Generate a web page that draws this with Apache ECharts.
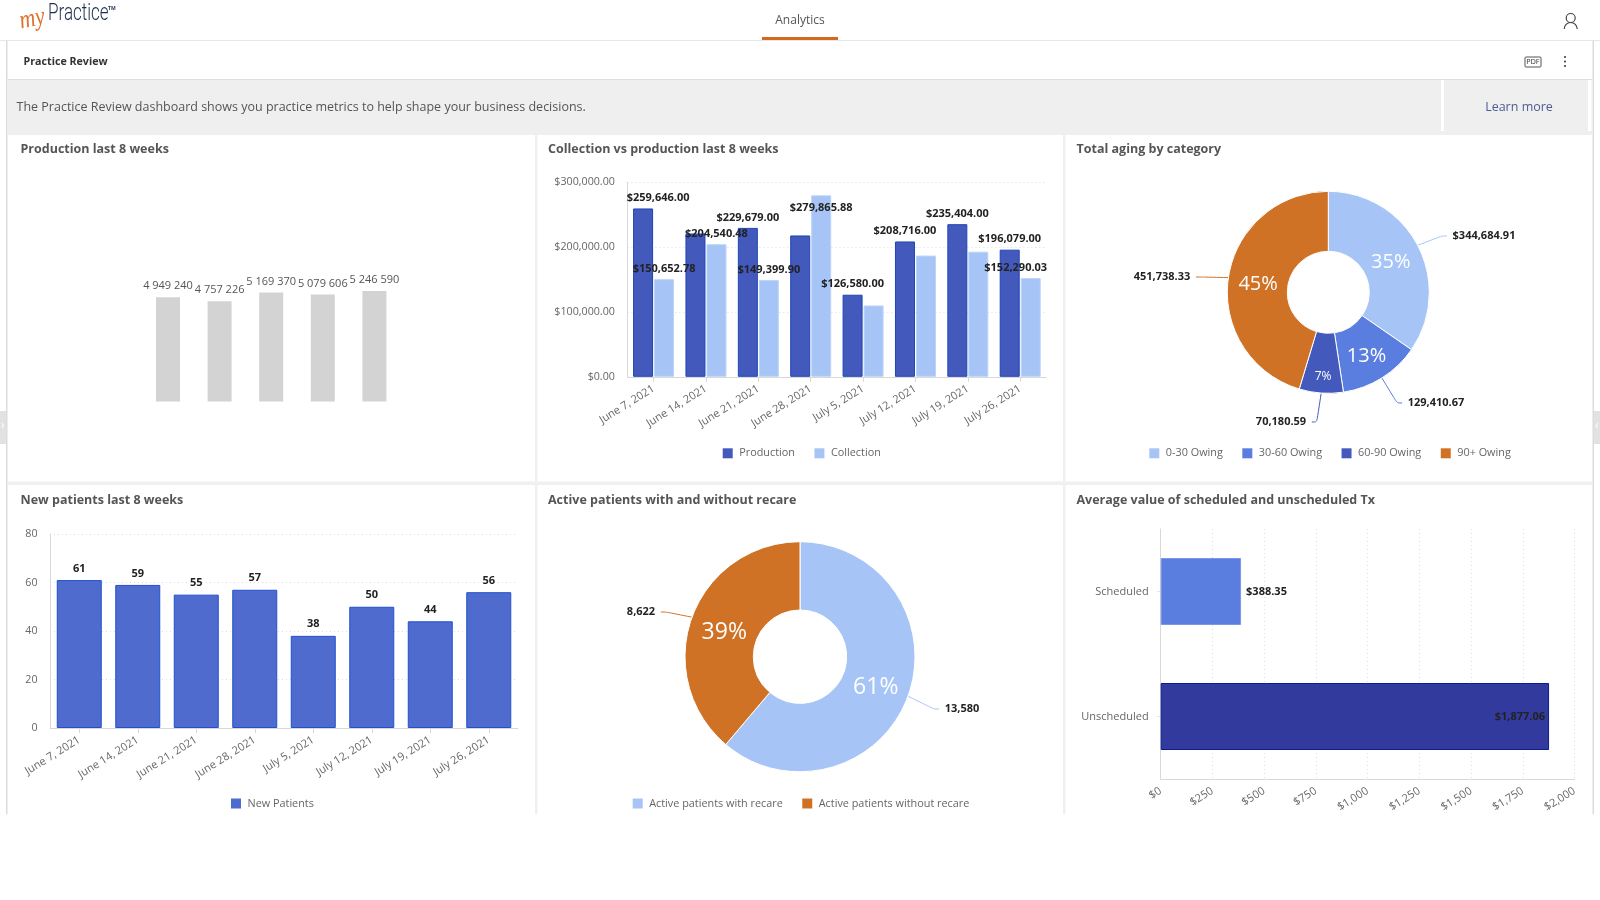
<!DOCTYPE html>
<html lang="en">
<head>
	<meta charset="UTF-8">
	<title>Practice Review</title>
	<script src="https://cdn.jsdelivr.net/npm/echarts@6/dist/echarts.min.js"></script>
	<style>
		html, body { margin: 0; padding: 0; background: #fff; }
		#main { width: 1600px; height: 900px; }
	</style>
</head>
<body>
	<div id="main"></div>
	<script type="text/javascript">
		var weeks = ['June 7, 2021', 'June 14, 2021', 'June 21, 2021', 'June 28, 2021', 'July 5, 2021', 'July 12, 2021', 'July 19, 2021', 'July 26, 2021'];

		// production last 8 weeks (only five bars on the card, no axis labels)
		var totalSlots = ['1', '2', '3', '4', '5'];
		var totalValues = [4949240, 4757226, 5169370, 5079606, 5246590];

		// collection vs production
		var productionValues = [259646.00, 221000, 229679.00, 218000, 126580.00, 208716.00, 235404.00, 196079.00];
		var collectionValues = [150652.78, 204540.48, 149399.90, 279865.88, 110000, 187000, 193000, 152290.03];
		var productionHasLabel = [true, false, true, false, true, true, true, true];
		var collectionHasLabel = [true, true, true, true, false, false, false, true];

		// aging
		var agingNames = ['0-30 Owing', '30-60 Owing', '60-90 Owing', '90+ Owing'];
		var agingValues = [344684.91, 129410.67, 70180.59, 451738.33];
		var agingTexts = ['$344,684.91', '129,410.67', '70,180.59', '451,738.33'];

		// new patients
		var newPatients = [61, 59, 55, 57, 38, 50, 44, 56];

		// recare
		var recareNames = ['Active patients with recare', 'Active patients without recare'];
		var recareValues = [13580, 8622];
		var recareTexts = ['13,580', '8,622'];

		// average value of Tx
		var txNames = ['Scheduled', 'Unscheduled'];
		var txValues = [388.35, 1877.06];

		var FONT = '"Open Sans", sans-serif';
		var GREY = '#666';
		var DARK = '#222';
		var LIGHT = '#a6c5f6';
		var MID = '#5a7de0';
		var BLUE = '#4459bc';
		var ORANGE = '#d07226';

		// label nudges for the crowded chart, by data index
		var productionOffset = { 0: [15, 0] };
		var collectionOffset = { 3: [0, 23], 7: [-15, 0] };
		var agingLabelPos = [[1484, 236], [1436, 403], [1281, 422], [1162, 277]];
		var recareLabelPos = [[962, 709], [641, 612]];
		var agingPercentShift = [[-3, 4], [-1, 1], [0, 10], [3, 3]];
		var recarePercentShift = [[-3, 2], [3, 5]];

		function money(v) {
			return '$' + v.toLocaleString('en-US', { minimumFractionDigits: 2, maximumFractionDigits: 2 });
		}
		function spaced(v) {
			return v.toLocaleString('en-US').replace(/,/g, ' ');
		}

		function barData(values, shown, offsets) {
			return values.map(function (v, i) {
				var item = { value: v, label: { show: shown[i] } };
				if (offsets[i]) item.label.offset = offsets[i];
				return item;
			});
		}

		function pieData(names, values, colors, sizes) {
			return values.map(function (v, i) {
				var item = { name: names[i], value: v, itemStyle: { color: colors[i] } };
				if (sizes) item.label = { fontSize: sizes[i] };
				return item;
			});
		}

		function valueLabel() {
			return { show: true, position: 'top', color: DARK, fontFamily: FONT, fontSize: 11, fontWeight: 'bold' };
		}

		function percentText(p) {
			return Math.round(p.percent) + '%';
		}

		// outside pie label: blank side tokens keep the leader line off the text
		function outerLabel(texts) {
			return {
				show: true, position: 'outside',
				formatter: function (p) { return '{gap| }{v|' + texts[p.dataIndex] + '}{gap| }'; },
				rich: {
					gap: { width: 8 },
					v: { color: DARK, fontFamily: FONT, fontSize: 11, fontWeight: 'bold' }
				}
			};
		}

		function catAxis(gridIndex, data) {
			return {
				type: 'category', gridIndex: gridIndex, data: data,
				axisLine: { lineStyle: { color: '#d8d8d8' } },
				axisTick: { show: true, alignWithLabel: true, length: 5, lineStyle: { color: '#d8d8d8' } },
				axisLabel: { interval: 0, rotate: 32, margin: 11, color: GREY, fontFamily: FONT, fontSize: 11 },
				splitLine: { show: false }
			};
		}

		function valAxis(gridIndex, max, interval, formatter) {
			return {
				type: 'value', gridIndex: gridIndex, min: 0, max: max, interval: interval,
				axisLine: { show: true, lineStyle: { color: '#d8d8d8' } },
				axisTick: { show: false },
				axisLabel: { margin: 12.5, color: GREY, fontFamily: FONT, fontSize: 10.7, formatter: formatter },
				splitLine: { show: true, lineStyle: { color: '#dcdcdc', type: [1, 3] } }
			};
		}

		function legend(left, top, names) {
			return {
				left: left, top: top, data: names, selectedMode: false, itemGap: 19.5,
				itemWidth: 10, itemHeight: 10, icon: 'rect', padding: 0,
				itemStyle: { borderWidth: 0 },
				textStyle: { color: GREY, fontFamily: FONT, fontSize: 10.85, padding: [0, 0, 0, 1.5] }
			};
		}

		function panelTitle(left, top, text) {
			return {
				text: text, left: left, top: top, padding: 0,
				textStyle: { color: '#555', fontFamily: FONT, fontSize: 12.5, fontWeight: 'bold' }
			};
		}

		function rect(x, y, w, h, fill) {
			return { type: 'rect', silent: true, shape: { x: x, y: y, width: w, height: h }, style: { fill: fill } };
		}
		function text(x, y, str, font, fill, align) {
			return {
				type: 'text', silent: true, x: x, y: y,
				style: { text: str, font: font, fill: fill, align: align || 'left', verticalAlign: 'middle' }
			};
		}

		var chrome = [
			rect(0, 40, 1600, 1, '#e6e6e6'),
			rect(762, 37, 76, 3, '#d2691e'),
			rect(6, 41, 1.5, 773, '#dcdcdc'),
			rect(1592.5, 41, 1.5, 773, '#dcdcdc'),
			rect(7.5, 79, 1585, 1, '#dedede'),
			rect(7.5, 80, 1585, 55, '#efefef'),
			rect(1441, 80, 3, 51, '#fff'),
			rect(1588, 80, 3.5, 51, '#fff'),
			rect(535, 135, 2.5, 679, '#f0f0f0'),
			rect(1063, 135, 2.5, 679, '#f0f0f0'),
			rect(7.5, 481.5, 1585, 3.5, '#f0f0f0'),
			rect(0, 411, 6, 33, '#e2e2e2'),
			rect(1594, 411, 6, 33, '#e2e2e2'),
			text(1, 426, '›', '12px ' + FONT, '#fff'),
			text(1595, 426, '‹', '12px ' + FONT, '#fff'),
			// logo
			{
				type: 'text', silent: true, x: 17, y: 9, rotation: 0.2, scaleX: 0.85,
				style: { text: 'my', font: 'italic 26px "Liberation Serif", serif', fill: '#e0702a' }
			},
			{
				type: 'text', silent: true, x: 48, y: 14, scaleX: 0.74,
				style: { text: 'Practice', font: '300 23px Roboto, sans-serif', fill: '#1f2f4a', verticalAlign: 'middle' }
			},
			text(108, 8.5, 'TM', 'bold 5px ' + FONT, '#1f2f4a'),
			text(800, 21, 'Analytics', '12px ' + FONT, '#555', 'center'),
			// user icon
			{ type: 'circle', silent: true, shape: { cx: 1570.7, cy: 18, r: 4.5 }, style: { fill: 'none', stroke: '#444', lineWidth: 1.2 } },
			{ type: 'arc', silent: true, shape: { cx: 1570.7, cy: 29, r: 6.5, startAngle: Math.PI, endAngle: 2 * Math.PI }, style: { fill: 'none', stroke: '#444', lineWidth: 1.2 } },
			text(23.5, 62, 'Practice Review', 'bold 10.7px ' + FONT, '#333'),
			// pdf and menu icons
			{ type: 'rect', silent: true, shape: { x: 1525, y: 57, width: 16, height: 10, r: 1 }, style: { fill: '#fff', stroke: '#555', lineWidth: 1 } },
			text(1533, 62, 'PDF', '7px "DejaVu Sans", sans-serif', '#444', 'center'),
			{ type: 'circle', silent: true, shape: { cx: 1565, cy: 57, r: 1 }, style: { fill: '#333' } },
			{ type: 'circle', silent: true, shape: { cx: 1565, cy: 61.5, r: 1 }, style: { fill: '#333' } },
			{ type: 'circle', silent: true, shape: { cx: 1565, cy: 66, r: 1 }, style: { fill: '#333' } },
			text(16.5, 107.5, 'The Practice Review dashboard shows you practice metrics to help shape your business decisions.', '12.5px ' + FONT, '#555'),
			text(1519, 107.5, 'Learn more', '12.5px ' + FONT, '#4c5c92', 'center')
		];

		var myChart = echarts.init(document.getElementById('main'));

		myChart.setOption({
			animation: false,
			backgroundColor: '#fff',
			graphic: chrome,
			title: [
				panelTitle(20.5, 142.5, 'Production last 8 weeks'),
				panelTitle(548, 142.5, 'Collection vs production last 8 weeks'),
				panelTitle(1076.5, 142.5, 'Total aging by category'),
				panelTitle(20.5, 493.5, 'New patients last 8 weeks'),
				panelTitle(548, 493.5, 'Active patients with and without recare'),
				panelTitle(1076.5, 493.5, 'Average value of scheduled and unscheduled Tx')
			],
			legend: [
				legend(722.7, 447.8, ['Production', 'Collection']),
				legend(1149.3, 447.8, agingNames),
				legend(231, 798, ['New Patients']),
				legend(632.7, 798, recareNames)
			],
			grid: [
				{ left: 142.2, top: 275, width: 258, height: 126.6, outerBoundsMode: 'none' },
				{ left: 627.4, top: 182.3, width: 419, height: 194.5, outerBoundsMode: 'none' },
				{ left: 50, top: 534, width: 468, height: 194, outerBoundsMode: 'none' },
				{ left: 1160.7, top: 529, width: 413.8, height: 250, outerBoundsMode: 'none' }
			],
			xAxis: [
				{ type: 'category', gridIndex: 0, data: totalSlots, show: false },
				catAxis(1, weeks),
				catAxis(2, weeks),
				{
					type: 'value', gridIndex: 3, min: 0, max: 2000, interval: 250,
					axisLine: { show: true, lineStyle: { color: '#d8d8d8' } },
					axisTick: { show: false },
					axisLabel: {
						rotate: 32, margin: 11, color: GREY, fontFamily: FONT, fontSize: 11,
						hideOverlap: false, formatter: function (v) { return '$' + v.toLocaleString('en-US'); }
					},
					splitLine: { show: true, lineStyle: { color: '#dcdcdc', type: [1, 3] } }
				}
			],
			yAxis: [
				{ type: 'value', gridIndex: 0, min: 0, max: 6000000, show: false, splitLine: { show: false } },
				valAxis(1, 300000, 100000, money),
				valAxis(2, 80, 20),
				{
					type: 'category', gridIndex: 3, data: txNames, inverse: true,
					axisLine: { lineStyle: { color: '#d8d8d8' } },
					axisTick: { show: true, length: 4, alignWithLabel: true, lineStyle: { color: '#e4e4e4' } },
					axisLabel: { margin: 12, color: GREY, fontFamily: FONT, fontSize: 11 },
					splitLine: { show: false }
				}
			],
			series: [
				{
					name: 'Production total', type: 'bar', xAxisIndex: 0, yAxisIndex: 0, barWidth: 24,
					data: totalValues, itemStyle: { color: '#d3d3d3' },
					label: {
						show: true, position: 'top', distance: 5.5, color: '#555', fontFamily: FONT, fontSize: 11,
						formatter: function (p) { return spaced(p.value); }
					}
				},
				{
					name: 'Production', type: 'bar', xAxisIndex: 1, yAxisIndex: 1, barWidth: 20, barGap: '5%',
					data: barData(productionValues, productionHasLabel, productionOffset),
					itemStyle: { color: BLUE, borderColor: '#1c45b8', borderWidth: 1 },
					label: Object.assign(valueLabel(), { formatter: function (p) { return money(p.value); } }),
					z: 2
				},
				{
					name: 'Collection', type: 'bar', xAxisIndex: 1, yAxisIndex: 1, barWidth: 20, barGap: '5%',
					data: barData(collectionValues, collectionHasLabel, collectionOffset),
					itemStyle: { color: LIGHT, borderColor: '#bcd4f8', borderWidth: 1 },
					label: Object.assign(valueLabel(), { formatter: function (p) { return money(p.value); } }),
					z: 2
				},
				{
					name: 'New Patients', type: 'bar', xAxisIndex: 2, yAxisIndex: 2, barWidth: 45,
					data: newPatients,
					itemStyle: { color: '#4f6bcd', borderColor: '#2050d0', borderWidth: 1 },
					label: Object.assign(valueLabel(), { distance: 6 })
				},
				{
					name: 'Average value', type: 'bar', xAxisIndex: 3, yAxisIndex: 3, barWidth: 67,
					data: [
						{ value: txValues[0], itemStyle: { color: MID, borderColor: '#7a97e8', borderWidth: 1 }, label: { position: 'right', distance: 5 } },
						{ value: txValues[1], itemStyle: { color: '#323b9d', borderColor: '#0b1c8c', borderWidth: 1 }, label: { position: 'insideRight', distance: 4 } }
					],
					label: {
						show: true, color: DARK, fontFamily: FONT, fontSize: 11, fontWeight: 'bold',
						formatter: function (p) { return money(p.value); }
					}
				},
				{
					// outer value labels with their leader lines
					type: 'pie', center: [1328.3, 292.3], radius: [41, 101], silent: true,
					data: pieData(agingNames, agingValues, [LIGHT, MID, BLUE, ORANGE]),
					itemStyle: { borderColor: '#fff', borderWidth: 1 },
					avoidLabelOverlap: false,
					label: outerLabel(agingTexts),
					labelLine: { show: true, smooth: 0.3, length: 14, length2: 5, lineStyle: { width: 1 } },
					labelLayout: function (p) {
						var pos = agingLabelPos[p.dataIndex];
						return { x: pos[0], y: pos[1], align: 'center', verticalAlign: 'middle' };
					}
				},
				{
					type: 'pie', center: [1328.3, 292.3], radius: [41, 101], silent: true,
					data: pieData(agingNames, agingValues, [LIGHT, MID, BLUE, ORANGE], [20, 20, 12, 20]),
					itemStyle: { borderColor: '#fff', borderWidth: 1 },
					label: { show: true, position: 'inside', color: '#fff', fontFamily: FONT, fontWeight: 400, formatter: percentText },
					labelLine: { show: false },
					labelLayout: function (p) {
						var s = agingPercentShift[p.dataIndex];
						return { dx: s[0], dy: s[1] };
					}
				},
				{
					type: 'pie', center: [800, 656.7], radius: [46.7, 115], silent: true,
					data: pieData(recareNames, recareValues, [LIGHT, ORANGE]),
					itemStyle: { borderColor: '#fff', borderWidth: 1 },
					avoidLabelOverlap: false,
					label: outerLabel(recareTexts),
					labelLine: { show: true, smooth: 0.3, length: 14, length2: 5, lineStyle: { width: 1 } },
					labelLayout: function (p) {
						var pos = recareLabelPos[p.dataIndex];
						return { x: pos[0], y: pos[1], align: 'center', verticalAlign: 'middle' };
					}
				},
				{
					type: 'pie', center: [800, 656.7], radius: [46.7, 115], silent: true,
					data: pieData(recareNames, recareValues, [LIGHT, ORANGE], [23, 23]),
					itemStyle: { borderColor: '#fff', borderWidth: 1 },
					label: { show: true, position: 'inside', color: '#fff', fontFamily: FONT, fontWeight: 400, formatter: percentText },
					labelLine: { show: false },
					labelLayout: function (p) {
						var s = recarePercentShift[p.dataIndex];
						return { dx: s[0], dy: s[1] };
					}
				}
			]
		});
	</script>
</body>
</html>
